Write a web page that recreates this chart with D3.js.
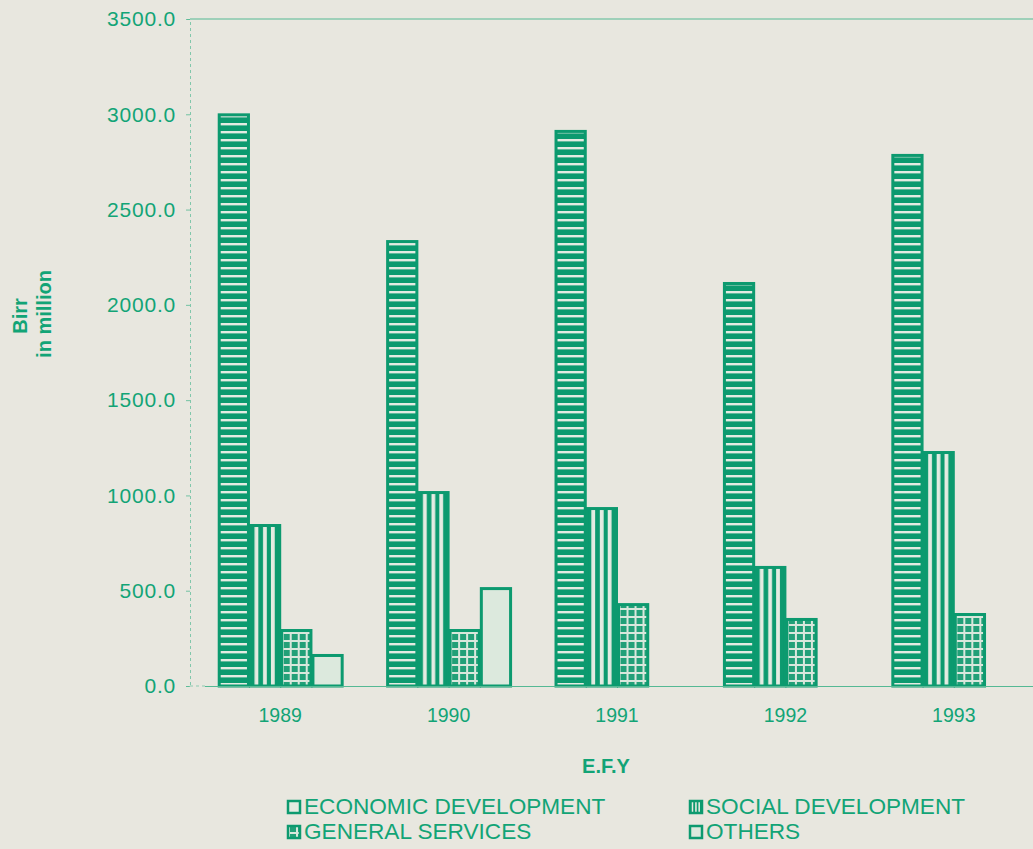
<!DOCTYPE html>
<html>
<head>
<meta charset="utf-8">
<script src="https://cdn.jsdelivr.net/npm/d3@7"></script>
<style>
  html, body { margin: 0; padding: 0; background: #e8e7df; }
  svg { display: block; }
  text { font-family: "Liberation Sans", Arial, sans-serif; }
</style>
</head>
<body>
<svg id="chart" width="1033" height="849"></svg>
<script>
const years = ["1989", "1990", "1991", "1992", "1993"];
const seriesNames = ["ECONOMIC DEVELOPMENT", "SOCIAL DEVELOPMENT", "GENERAL SERVICES", "OTHERS"];
const economic = [3005, 2340, 2918, 2120, 2792];
const social   = [850, 1023, 939, 630, 1233];
const general  = [299, 299, 435, 357, 383];
const others   = [168, 519, 0, 0, 0];
const yTicks = [0, 500, 1000, 1500, 2000, 2500, 3000, 3500];

const GREEN = "#0c9a6f";
const TEXT = "#12a476";
const LIGHT = "#e4ebe2";
const AXIS = "#55b994";

const svg = d3.select("#chart");
svg.append("rect").attr("width", 1033).attr("height", 849).attr("fill", "#e8e7df");

const defs = svg.append("defs");
// economic: horizontal stripes
const pE = defs.append("pattern").attr("id", "pE").attr("patternUnits", "userSpaceOnUse")
  .attr("width", 8).attr("height", 8);
pE.append("rect").attr("width", 8).attr("height", 8).attr("fill", GREEN);
pE.append("rect").attr("y", 3).attr("width", 8).attr("height", 2.4).attr("fill", LIGHT);
// social: vertical stripes, bounding box based
const pS = defs.append("pattern").attr("id", "pS").attr("patternUnits", "objectBoundingBox")
  .attr("patternContentUnits", "objectBoundingBox").attr("width", 1).attr("height", 1);
pS.append("rect").attr("width", 1).attr("height", 1).attr("fill", GREEN);
[[0.14, 0.13], [0.43, 0.13], [0.70, 0.13]].forEach(([x, w]) =>
  pS.append("rect").attr("x", x).attr("width", w).attr("height", 1).attr("fill", LIGHT));
// general: grid
const pG = defs.append("pattern").attr("id", "pG").attr("patternUnits", "userSpaceOnUse")
  .attr("width", 8).attr("height", 8);
pG.append("rect").attr("width", 8).attr("height", 8).attr("fill", "#22a078");
pG.append("rect").attr("x", 0).attr("width", 2).attr("height", 8).attr("fill", "#d9e7dc");
pG.append("rect").attr("y", 0).attr("width", 8).attr("height", 2).attr("fill", "#d9e7dc");

const fills = ["url(#pE)", "url(#pS)", "url(#pG)", "#dce9dd"];

const y = d3.scaleLinear().domain([0, 3500]).range([686, 19]);
const x0 = d3.scaleBand().domain(years).range([196, 1038]).paddingInner(0.258).paddingOuter(0.129);
const x1 = d3.scaleBand().domain(seriesNames).range([0, x0.bandwidth()]);

const rows = years.map((yr, i) => ({
  year: yr,
  vals: [economic[i], social[i], general[i], others[i]]
}));

// top frame line
svg.append("line").attr("x1", 190).attr("x2", 1033).attr("y1", y(3500)).attr("y2", y(3500))
  .attr("stroke", AXIS).attr("stroke-width", 1.2);

// y axis
const yAxis = svg.append("g").attr("transform", "translate(190,0)")
  .call(d3.axisLeft(y).tickValues(yTicks).tickFormat(d3.format(".1f")).tickSize(4).tickPadding(10));
yAxis.select(".domain").attr("stroke", AXIS).attr("stroke-width", 1).attr("stroke-dasharray", "3,3").attr("opacity", 0.7);
yAxis.selectAll(".tick line").attr("stroke", AXIS).attr("opacity", 0.8);
yAxis.selectAll(".tick text").attr("fill", TEXT).attr("font-size", 21).attr("letter-spacing", 0.8)
  .attr("font-family", "Liberation Sans, Arial, sans-serif");

// bars
const groups = svg.append("g").selectAll("g").data(rows).join("g")
  .attr("transform", d => `translate(${x0(d.year)},0)`);
groups.selectAll("rect").data(d => d.vals.map((v, k) => ({ v, k })).filter(e => e.v > 0)).join("rect")
  .attr("x", e => x1(seriesNames[e.k]) + 1.5)
  .attr("width", x1.bandwidth() - 2)
  .attr("y", e => y(e.v) + 1.5)
  .attr("height", e => y(0) - y(e.v) - 1.5)
  .attr("fill", e => fills[e.k])
  .attr("stroke", GREEN).attr("stroke-width", 3);

// x axis
const xAxis = svg.append("g").attr("transform", `translate(0,${y(0)})`)
  .call(d3.axisBottom(x0).tickSize(0).tickPadding(22));
xAxis.select(".domain").remove();
svg.append("line").attr("x1", 190).attr("x2", 205).attr("y1", y(0)).attr("y2", y(0))
  .attr("stroke", AXIS).attr("stroke-dasharray", "3,3").attr("opacity", 0.6);
svg.append("line").attr("x1", 205).attr("x2", 1033).attr("y1", y(0) + 0.5).attr("y2", y(0) + 0.5)
  .attr("stroke", AXIS).attr("stroke-width", 1.2);
xAxis.selectAll(".tick text").attr("fill", TEXT).attr("font-size", 19.5)
  .attr("font-family", "Liberation Sans, Arial, sans-serif");

// axis titles
svg.append("text").attr("transform", "translate(27,316) rotate(-90)").attr("text-anchor", "middle")
  .attr("fill", TEXT).attr("font-weight", "bold").attr("font-size", 20).text("Birr");
svg.append("text").attr("transform", "translate(51,314) rotate(-90)").attr("text-anchor", "middle")
  .attr("fill", TEXT).attr("font-weight", "bold").attr("font-size", 20).text("in million");
svg.append("text").attr("x", 606).attr("y", 773).attr("text-anchor", "middle")
  .attr("fill", TEXT).attr("font-weight", "bold").attr("font-size", 20).text("E.F.Y");

// legend
const legendPos = [[287, 800], [689, 800], [287, 825], [689, 825]];
seriesNames.forEach((name, k) => {
  const [lx, ly] = legendPos[k];
  svg.append("rect").attr("x", lx + 1).attr("y", ly + 1).attr("width", 12).attr("height", 12)
    .attr("fill", k === 0 ? LIGHT : fills[k]).attr("stroke", GREEN).attr("stroke-width", 2.5);
  svg.append("text").attr("x", lx + 17).attr("y", ly + 14).attr("fill", TEXT)
    .attr("font-size", 22.6).text(name);
});
</script>
</body>
</html>
